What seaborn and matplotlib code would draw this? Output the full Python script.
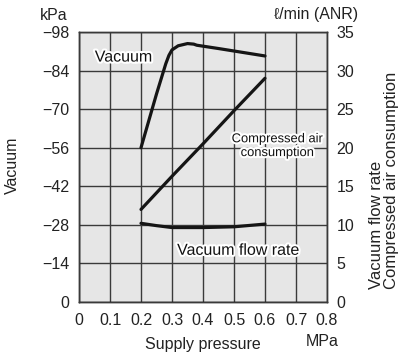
import matplotlib
matplotlib.use("Agg")
import matplotlib.pyplot as plt
import matplotlib.patheffects as pe
import numpy as np
import pandas as pd
import seaborn as sns

# Supply pressure (MPa) vs. vacuum (kPa)
vac_pressure = [0.20, 0.25, 0.28, 0.29, 0.30, 0.32, 0.35, 0.37, 0.38, 0.45, 0.60]
vac_kpa = [-56.0, -75.5, -86.5, -89.5, -91.5, -93.0, -93.8, -93.6, -93.2, -92.0, -89.3]

# Supply pressure (MPa) vs. vacuum flow rate (l/min ANR)
flow_pressure = [0.20, 0.25, 0.30, 0.40, 0.50, 0.60]
flow_rate = [10.2, 9.9, 9.65, 9.65, 9.75, 10.1]

# Supply pressure (MPa) vs. compressed air consumption (l/min ANR)
air_pressure = [0.20, 0.30, 0.40, 0.50, 0.60]
air_consumption = [12.0, 16.3, 20.5, 24.8, 29.0]

x_ticks = [0, 0.1, 0.2, 0.3, 0.4, 0.5, 0.6, 0.7, 0.8]
x_tick_labels = ["0", "0.1", "0.2", "0.3", "0.4", "0.5", "0.6", "0.7", "0.8"]
vac_ticks = [0, -14, -28, -42, -56, -70, -84, -98]
flow_ticks = [0, 5, 10, 15, 20, 25, 30, 35]

FS = 11.5

sns.set_style("white")
plt.rcParams["font.family"] = ["Liberation Sans", "DejaVu Sans"]
plt.rcParams["font.size"] = FS

fig = plt.figure(figsize=(4.01, 3.58), dpi=100)
ax = fig.add_axes([79 / 401, 1 - 302 / 358, 248 / 401, 270 / 358])
ax2 = ax.twinx()

ax.set_facecolor("#e6e6e6")
ax.set_xlim(0, 0.8)
ax.set_ylim(0, -98)
ax2.set_ylim(0, 35)
ax.set_xticks(x_ticks)
ax.set_xticklabels(x_tick_labels)
ax.set_yticks(vac_ticks)
ax2.set_yticks(flow_ticks)

ax.grid(True, color="#3a3a3a", linewidth=1.0)
ax.set_axisbelow(True)
ax2.grid(False)
for a in (ax, ax2):
    a.tick_params(length=0, labelsize=FS, colors="#222222")
    for s in a.spines.values():
        s.set_color("#3a3a3a")
        s.set_linewidth(1.0)
ax.spines["left"].set_color("#111111")
ax.spines["bottom"].set_color("#111111")
ax.tick_params(axis="y", pad=7)
ax.tick_params(axis="x", pad=8)
ax2.tick_params(axis="y", pad=7)

line_kw = dict(color="#151515", linewidth=2.3, legend=False)
sns.lineplot(data=pd.DataFrame({"p": vac_pressure, "v": vac_kpa}),
             x="p", y="v", ax=ax, **line_kw)
sns.lineplot(data=pd.DataFrame({"p": flow_pressure, "q": flow_rate}),
             x="p", y="q", ax=ax2, **line_kw)
sns.lineplot(data=pd.DataFrame({"p": air_pressure, "q": air_consumption}),
             x="p", y="q", ax=ax2, **line_kw)

ax.set_xlabel("")
ax.set_ylabel("")
ax2.set_ylabel("")

halo = [pe.withStroke(linewidth=3, foreground="white")]
ax.text(0.1435, -88.9, "Vacuum", ha="center", va="center", fontsize=FS,
        color="#111111", path_effects=halo)
ax2.text(0.639, 20.2, "Compressed air\nconsumption", ha="center", va="center",
         fontsize=9.3, color="#111111", linespacing=1.2,
         fontstretch="condensed", path_effects=halo)
ax2.text(0.514, 6.7, "Vacuum flow rate", ha="center", va="center",
         fontsize=FS, color="#111111", path_effects=halo)

fig.text(40 / 401, 1 - 15 / 358, "kPa", ha="left", va="center", fontsize=FS, color="#222222")
fig.text(358 / 401, 1 - 15 / 358, "ℓ/min (ANR)", ha="right", va="center", fontsize=FS, color="#222222")
fig.text(322 / 401, 1 - 341 / 358, "MPa", ha="center", va="center", fontsize=FS, color="#222222")
fig.text(203 / 401, 1 - 345 / 358, "Supply pressure", ha="center", va="center", fontsize=FS, color="#222222")
fig.text(12 / 401, 1 - 165 / 358, "Vacuum", ha="center", va="center", rotation=90, fontsize=FS, color="#222222")
fig.text(384 / 401, 1 - 289 / 358, "Vacuum flow rate\nCompressed air consumption",
         ha="center", va="bottom", rotation=90, multialignment="left",
         fontsize=12, color="#222222", linespacing=1.0)

fig.savefig("out.png", dpi=100)
